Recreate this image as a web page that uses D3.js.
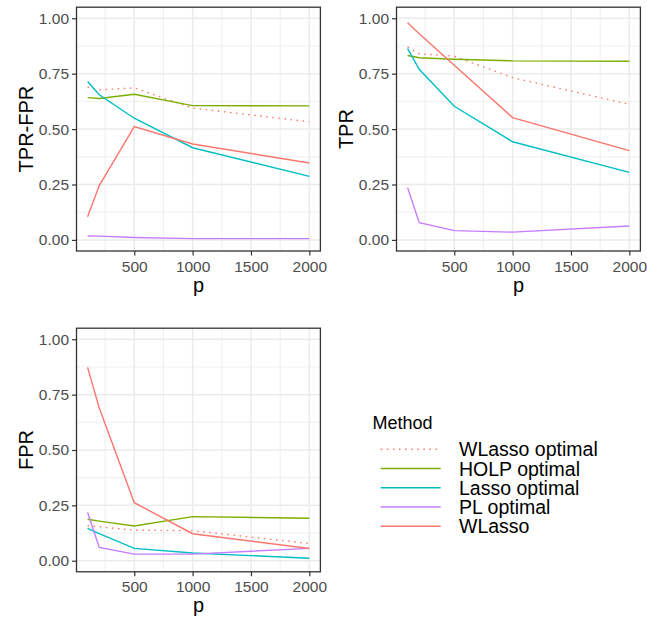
<!DOCTYPE html>
<html><head><meta charset="utf-8">
<script src="https://cdn.jsdelivr.net/npm/d3@7"></script>
<style>
body{margin:0;background:#fff}
svg{display:block}
text{font-family:"Liberation Sans", Arial, sans-serif}
</style>
</head><body>
<svg id="chart" width="647" height="621"></svg>
<script>
// ---- data ----
const pValues = [100, 200, 500, 1000, 2000];
const methods = ["WLasso optimal", "HOLP optimal", "Lasso optimal", "PL optimal", "WLasso"];
const methodColors = ["#F8766D", "#7CAE00", "#00BFC4", "#C77CFF", "#F8766D"];
const xTicks = [500, 1000, 1500, 2000];
const xTickLabels = ["500", "1000", "1500", "2000"];
const yTicks = [0, 0.25, 0.5, 0.75, 1];
const yTickLabels = ["0.00", "0.25", "0.50", "0.75", "1.00"];

// values per method, in the order of `methods`
const tprFprValues = [
  [0.690, 0.677, 0.686, 0.595, 0.533],
  [0.642, 0.638, 0.657, 0.606, 0.605],
  [0.715, 0.655, 0.549, 0.416, 0.287],
  [0.018, 0.017, 0.011, 0.006, 0.006],
  [0.105, 0.245, 0.511, 0.433, 0.347]
];
const tprValues = [
  [0.870, 0.840, 0.829, 0.732, 0.612],
  [0.832, 0.822, 0.815, 0.808, 0.806],
  [0.863, 0.770, 0.603, 0.443, 0.305],
  [0.236, 0.078, 0.042, 0.035, 0.063],
  [0.980, 0.930, 0.788, 0.552, 0.403]
];
const fprValues = [
  [0.158, 0.153, 0.138, 0.136, 0.078],
  [0.187, 0.179, 0.157, 0.199, 0.192],
  [0.146, 0.122, 0.056, 0.035, 0.011],
  [0.218, 0.060, 0.030, 0.030, 0.056],
  [0.873, 0.690, 0.262, 0.122, 0.055]
];

// ---- layout ----
const svg = d3.select("#chart");
const panels = [
  {label: "TPR-FPR", values: tprFprValues, left: 76.5, right: 320.4, top: 7.2, bottom: 251},
  {label: "TPR", values: tprValues, left: 396.5, right: 640.4, top: 7.2, bottom: 251},
  {label: "FPR", values: fprValues, left: 76.5, right: 320.4, top: 328.2, bottom: 571.8}
];
const color = d3.scaleOrdinal().domain(methods).range(methodColors);
const dashFor = m => m === "WLasso optimal" ? "1.5,4.6" : null;

const ext = d3.extent(pValues);
const pad = (ext[1] - ext[0]) * 0.05;

panels.forEach(pn => {
  const x = d3.scaleLinear().domain([ext[0] - pad, ext[1] + pad]).range([pn.left, pn.right]);
  const y = d3.scaleLinear().domain([-0.05, 1.05]).range([pn.bottom, pn.top]);
  const g = svg.append("g");

  // minor grid
  const xMinor = xTicks.map(t => t - 250).filter(v => v > x.domain()[0]);
  const yMinor = yTicks.slice(1).map(t => t - 0.125);
  g.selectAll(".xm").data(xMinor).enter().append("line")
    .attr("x1", d => x(d)).attr("x2", d => x(d)).attr("y1", pn.top).attr("y2", pn.bottom)
    .attr("stroke", "#EBEBEB").attr("stroke-width", 0.8);
  g.selectAll(".ym").data(yMinor).enter().append("line")
    .attr("y1", d => y(d)).attr("y2", d => y(d)).attr("x1", pn.left).attr("x2", pn.right)
    .attr("stroke", "#EBEBEB").attr("stroke-width", 0.8);
  // major grid
  g.selectAll(".xg").data(xTicks).enter().append("line")
    .attr("x1", d => x(d)).attr("x2", d => x(d)).attr("y1", pn.top).attr("y2", pn.bottom)
    .attr("stroke", "#EBEBEB").attr("stroke-width", 1.5);
  g.selectAll(".yg").data(yTicks).enter().append("line")
    .attr("y1", d => y(d)).attr("y2", d => y(d)).attr("x1", pn.left).attr("x2", pn.right)
    .attr("stroke", "#EBEBEB").attr("stroke-width", 1.5);

  // lines
  const line = d3.line().x((d, i) => x(pValues[i])).y(d => y(d));
  methods.forEach((m, mi) => {
    g.append("path").datum(pn.values[mi])
      .attr("d", line)
      .attr("fill", "none")
      .attr("stroke", color(m))
      .attr("stroke-width", 1.4)
      .attr("stroke-dasharray", dashFor(m));
  });

  // border
  g.append("rect").attr("x", pn.left).attr("y", pn.top)
    .attr("width", pn.right - pn.left).attr("height", pn.bottom - pn.top)
    .attr("fill", "none").attr("stroke", "#333333").attr("stroke-width", 1.3);

  // axes
  const xAxis = d3.axisBottom(x).tickValues(xTicks).tickFormat((d, i) => xTickLabels[i])
    .tickSize(4.5).tickPadding(5).tickSizeOuter(0);
  const gx = g.append("g").attr("transform", `translate(0,${pn.bottom})`).call(xAxis);
  const yAxis = d3.axisLeft(y).tickValues(yTicks).tickFormat((d, i) => yTickLabels[i])
    .tickSize(4.5).tickPadding(3).tickSizeOuter(0);
  const gy = g.append("g").attr("transform", `translate(${pn.left},0)`).call(yAxis);
  [gx, gy].forEach(a => {
    a.select(".domain").remove();
    a.selectAll(".tick line").attr("stroke", "#333333").attr("stroke-width", 1.2);
    a.selectAll(".tick text").attr("fill", "#4D4D4D").style("font-size", "15.5px")
      .style("font-family", '"Liberation Sans", Arial, sans-serif');
  });

  // titles
  g.append("text").attr("x", (pn.left + pn.right) / 2).attr("y", pn.bottom + 40.5)
    .attr("text-anchor", "middle").style("font-size", "20px").attr("fill", "#000").text("p");
  g.append("text")
    .attr("transform", `translate(${pn.left - 44},${(pn.top + pn.bottom) / 2}) rotate(-90)`)
    .attr("text-anchor", "middle").style("font-size", "20px").attr("fill", "#000").text(pn.label);
});

// ---- legend ----
const lg = svg.append("g");
lg.append("text").attr("x", 372.5).attr("y", 429).style("font-size", "18px").attr("fill", "#000").text("Method");
const ly = d3.scalePoint().domain(methods).range([449.3, 526.2]);
methods.forEach(m => {
  lg.append("line").attr("x1", 380.7).attr("x2", 440.7).attr("y1", ly(m)).attr("y2", ly(m))
    .attr("stroke", color(m)).attr("stroke-width", 1.5).attr("stroke-dasharray", dashFor(m));
  lg.append("text").attr("x", 459).attr("y", ly(m)).attr("dy", "0.36em")
    .style("font-size", "19.5px").attr("fill", "#000").text(m);
});
</script>
</body></html>
